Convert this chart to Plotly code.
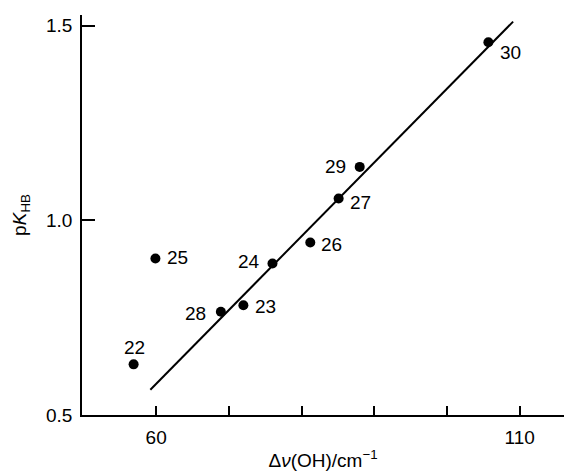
import plotly.graph_objects as go

# Data
compound = ["22", "25", "28", "23", "24", "26", "27", "29", "30"]
dnu_oh = [56.9, 59.9, 68.9, 72.0, 76.0, 81.2, 85.1, 88.0, 105.7]
pk_hb = [0.630, 0.902, 0.765, 0.782, 0.889, 0.943, 1.056, 1.137, 1.457]

fit_x = [59.2, 109.1]
fit_y = [0.565, 1.510]

x_tickvals = [60, 110]
x_ticktext = ["60", "110"]
x_minor_tickvals = [70, 80, 90, 100]
y_tickvals = [0.5, 1.0, 1.5]
y_ticktext = ["0.5", "1.0", "1.5"]

# label offsets in pixels (style): right, down
label_dx = [1, 22, -25, 22, -23, 21, 22, -24, 22]
label_dy = [-17, -1, 2, 1, -2, 2, 4, 0, 10]

FONT = "Liberation Sans, Arial, Helvetica, sans-serif"

fig = go.Figure()
fig.add_trace(go.Scatter(
    x=fit_x, y=fit_y, mode="lines",
    line=dict(color="black", width=2), hoverinfo="skip", showlegend=False))
fig.add_trace(go.Scatter(
    x=dnu_oh, y=pk_hb, mode="markers",
    marker=dict(color="black", size=10), showlegend=False))

for name, xv, yv, dx, dy in zip(compound, dnu_oh, pk_hb, label_dx, label_dy):
    fig.add_annotation(x=xv, y=yv, text=name, showarrow=False,
                       xshift=dx, yshift=-dy,
                       font=dict(family=FONT, size=19, color="black"))

fig.update_layout(
    width=564, height=472,
    margin=dict(l=82, r=0, t=15, b=57),
    paper_bgcolor="white", plot_bgcolor="white",
    font=dict(family=FONT, size=19, color="black"),
    xaxis=dict(
        range=[49.8, 116.1], showgrid=False, zeroline=False,
        showline=True, linecolor="black", linewidth=1.5,
        ticks="inside", ticklen=9, tickwidth=1.5, tickcolor="black",
        tickvals=x_tickvals, ticktext=x_ticktext,
        minor=dict(tickvals=x_minor_tickvals, ticks="inside", ticklen=9,
                   tickwidth=1.5, tickcolor="black", showgrid=False),
        ticklabelstandoff=4,
        title=dict(text="Δ<i>ν</i>(OH)/cm<sup>−1</sup>", standoff=7,
                   font=dict(size=19)),
    ),
    yaxis=dict(
        range=[0.5, 1.527], showgrid=False, zeroline=False,
        showline=True, linecolor="black", linewidth=1.5,
        ticks="inside", ticklen=13, tickwidth=1.5, tickcolor="black",
        tickvals=y_tickvals, ticktext=y_ticktext,
        ticklabelstandoff=4,
        title=dict(text="p<i>K</i><sub>HB</sub>", standoff=14,
                   font=dict(size=19)),
    ),
)

fig.write_html("out.html", config={"displayModeBar": False},
               post_script="document.body.style.margin='0';")
